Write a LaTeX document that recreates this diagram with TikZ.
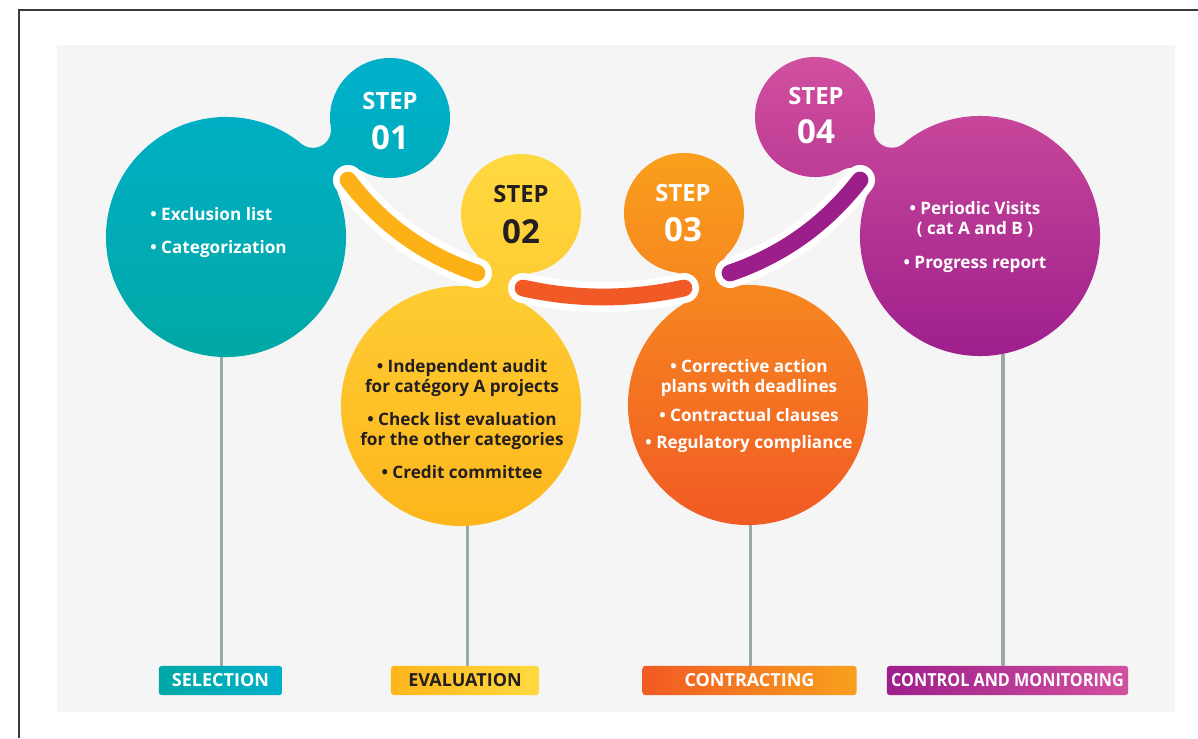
\documentclass[tikz,border=0pt]{standalone}
\usepackage{fontspec}
\setmainfont{Open Sans}
\usetikzlibrary{calc}

\definecolor{bgGray}{HTML}{F5F5F5}
\definecolor{frameGray}{HTML}{3A3A3A}
\definecolor{stemGray}{HTML}{9BA7A9}
\definecolor{darkText}{HTML}{231F20}
\definecolor{tealTop}{HTML}{00B0CC}
\definecolor{tealBot}{HTML}{00A8A5}
\definecolor{yellowTop}{HTML}{FFD940}
\definecolor{yellowBot}{HTML}{FDB61C}
\definecolor{orangeTop}{HTML}{F9A01D}
\definecolor{orangeBot}{HTML}{F15A24}
\definecolor{purpleTop}{HTML}{D1509E}
\definecolor{purpleBot}{HTML}{9E1F8C}
\definecolor{arcYellow}{HTML}{FCB216}
\definecolor{arcRed}{HTML}{F15A27}
\definecolor{arcPurple}{HTML}{9B1E8A}

\tikzset{
  body/.style n args={4}{path picture={\shade[top color=#1,bottom color=#2] (#3) rectangle (#4);}},
  big blob/.style={circle, minimum size=6cm, inner sep=0pt},
  small blob/.style={circle, minimum size=3cm, inner sep=0pt},
  fillet/.style={fill=bgGray},
  stem/.style={draw=stemGray, line width=2.2pt},
  tag/.style={rounded corners=2pt, minimum height=0.73cm, inner sep=0pt,
    font=\bfseries\fontsize{12.8}{14}\selectfont, text=white},
  halo/.style={draw=white, line width=0.75cm, line cap=round},
  link/.style={line width=0.42cm, line cap=round},
  step word/.style={font=\bfseries\fontsize{16.9}{18}\selectfont, text=white},
  step num/.style={font=\bfseries\fontsize{23.5}{26}\selectfont, text=white},
  bullets/.style={font=\bfseries\fontsize{12.2}{14.2}\selectfont, text=white,
    align=center, inner sep=0pt}
}

\begin{document}
\begin{tikzpicture}[x=0.025cm, y=-0.025cm,
    teal body/.style={body={tealTop}{tealBot}{g1a}{g1b}},
    yellow body/.style={body={yellowTop}{yellowBot}{g2a}{g2b}},
    orange body/.style={body={orangeTop}{orangeBot}{g3a}{g3b}},
    purple body/.style={body={purpleTop}{purpleBot}{g4a}{g4b}}]
  \useasboundingbox (0,0) rectangle (1198,738);
  \fill[bgGray] (57,45) rectangle (1175,712);
  \draw[frameGray, line width=1.1pt] (19,738) -- (19,10) -- (1198,10);

  % gradient extents of the four steps
  \coordinate (g1a) at (100,55);  \coordinate (g1b) at (455,360);
  \coordinate (g2a) at (335,150); \coordinate (g2b) at (590,528);
  \coordinate (g3a) at (620,150); \coordinate (g3b) at (875,528);
  \coordinate (g4a) at (750,54);  \coordinate (g4b) at (1105,358);

  % fillet centres of the necks
  \coordinate (f1a) at (354.9,187.6); \coordinate (f1b) at (312.9,129.8);
  \coordinate (f2a) at (536.2,290.3); \coordinate (f2b) at (463.8,268.1);
  \coordinate (f3a) at (740.1,267.2); \coordinate (f3b) at (671.7,290.0);
  \coordinate (f4a) at (891.8,129.7); \coordinate (f4b) at (851.4,185.9);

  \node[tag, minimum width=3.08cm, left color=tealBot, right color=tealTop] (tag1) at (220.5,680.5) {SELECTION};
  \node[tag, minimum width=3.7cm, left color=yellowBot, right color=yellowTop, text=darkText] (tag2) at (465,680.5) {EVALUATION};
  \node[tag, minimum width=5.35cm, left color=orangeBot, right color=orangeTop] (tag3) at (749.5,680.5) {CONTRACTING};
  \node[tag, minimum width=6.03cm, left color=purpleBot, right color=purpleTop] (tag4) at (1007.5,680.5) {\scalebox{0.9}[1]{CONTROL AND MONITORING}};

  \node[big blob, teal body] (big1) at (226,237) {};
  \node[small blob, teal body] (small1) at (390,118) {};
  \node[big blob, yellow body] (big2) at (461,406) {};
  \node[small blob, yellow body] (small2) at (521,214) {};
  \node[big blob, orange body] (big3) at (748,405) {};
  \node[small blob, orange body] (small3) at (684,213) {};
  \node[big blob, purple body] (big4) at (980,236) {};
  \node[small blob, purple body] (small4) at (815,117) {};

  \path[teal body] (big1.center) -- (f1a) -- (small1.center) -- (f1b) -- cycle;
  \path[yellow body] (big2.center) -- (f2a) -- (small2.center) -- (f2b) -- cycle;
  \path[orange body] (big3.center) -- (f3a) -- (small3.center) -- (f3b) -- cycle;
  \path[purple body] (big4.center) -- (f4a) -- (small4.center) -- (f4b) -- cycle;
  \foreach \i in {1,...,4} {
    \fill[fillet] (f\i a) circle[radius=18];
    \fill[fillet] (f\i b) circle[radius=18];
  }

  \foreach \i/\ang in {1/-92.6, 2/-87.6, 3/-89, 4/-79}
    \draw[stem] (big\i.\ang) -- (big\i.\ang |- tag\i.north);

  % links between the steps
  \coordinate (c1a) at (348,180); \coordinate (c1b) at (477,273);
  \coordinate (k1a) at (381.3,224); \coordinate (k1b) at (424.3,255);
  \coordinate (c2a) at (523,288); \coordinate (c2b) at (684,288);
  \coordinate (k2a) at (576.3,300); \coordinate (k2b) at (630,300);
  \coordinate (c3a) at (730,273); \coordinate (c3b) at (860,180);
  \coordinate (k3a) at (782.7,255); \coordinate (k3b) at (826,224);
  \foreach \i/\col in {1/arcYellow, 2/arcRed, 3/arcPurple} {
    \draw[halo] (c\i a) .. controls (k\i a) and (k\i b) .. (c\i b);
    \draw[link, draw=\col] (c\i a) .. controls (k\i a) and (k\i b) .. (c\i b);
  }

  \node[step word] (w1) at (390,101.5) {STEP};
  \node[step num] (n1) at (390,137.5) {01};
  \node[step word, text=darkText] (w2) at (521,194.5) {STEP};
  \node[step num, text=darkText] (n2) at (521,231.5) {02};
  \node[step word] (w3) at (683,193.5) {STEP};
  \node[step num] (n3) at (683,230) {03};
  \node[step word] (w4) at (816,96.5) {STEP};
  \node[step num] (n4) at (816,132) {04};

  \node[bullets, align=left, anchor=west] (list1) at (150,233) {• Exclusion list\\[9.3pt]• Categorization};
  \node[bullets, text=darkText] (list2) at (462,419) {• Independent audit\\for catégory A projects\\[9pt]• Check list evaluation\\for the other categories\\[9pt]• Credit committee};
  \node[bullets] (list3) at (749,406) {• Corrective action\\plans with deadlines\\[7pt]• Contractual clauses\\[5pt]• Regulatory compliance};
  \node[bullets] (list4) at (975,237) {• Periodic Visits\\( cat A and B )\\[10pt]• Progress report};
\end{tikzpicture}
\end{document}
